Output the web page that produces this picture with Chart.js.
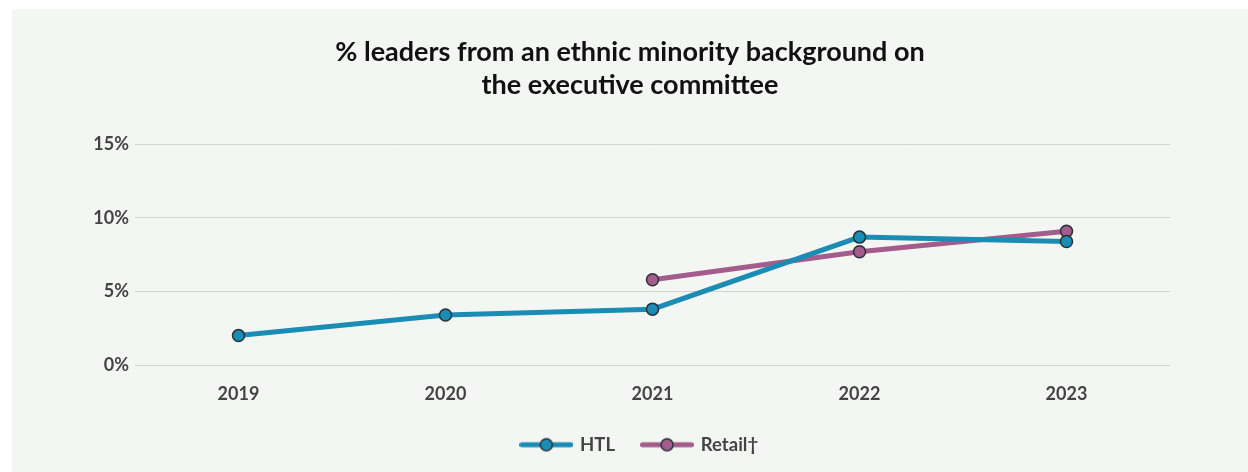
<!DOCTYPE html>
<html>
<head>
<meta charset="utf-8">
<script src="https://cdn.jsdelivr.net/npm/chart.js@4.4.0/dist/chart.umd.min.js"></script>
<style>
  html, body { margin: 0; padding: 0; background: #ffffff; }
  #wrap {
    position: absolute;
    left: 12px; top: 9px;
    width: 1236px; height: 463px;
    background: #f4f6f4;
  }
</style>
</head>
<body>
<div id="wrap"><canvas id="myChart" width="1236" height="463"></canvas></div>
<script>
// Data
const years = ['2019', '2020', '2021', '2022', '2023'];
const htl = [2.0, 3.4, 3.8, 8.7, 8.4];
const retail = [null, null, 5.8, 7.7, 9.1];
const yTicks = [0, 5, 10, 15];

const htlColor = '#1b8cb4';
const retailColor = '#a35c8c';
const markerEdge = '#263238';
const fontFamily = 'Lato, "Open Sans", sans-serif';

// legend swatch: short thick line with a marker in the middle
function legendSwatch(color) {
    const c = document.createElement('canvas');
    c.width = 54;
    c.height = 16;
    const g = c.getContext('2d');
    g.strokeStyle = color;
    g.lineWidth = 5;
    g.lineCap = 'round';
    g.beginPath();
    g.moveTo(2.5, 8);
    g.lineTo(51.5, 8);
    g.stroke();
    g.beginPath();
    g.arc(27, 8, 6, 0, Math.PI * 2);
    g.fillStyle = color;
    g.fill();
    g.lineWidth = 1.5;
    g.strokeStyle = markerEdge;
    g.stroke();
    return c;
}

const swatches = [legendSwatch(htlColor), legendSwatch(retailColor)];

// nudge the legend a little to the right of the centre
const legendShift = {
    id: 'legendShift',
    afterLayout(chart) {
        const lg = chart.legend;
        lg.left += 10;
        lg.right += 10;
    }
};

const ctx = document.getElementById('myChart').getContext('2d');

new Chart(ctx, {
    type: 'line',
    data: {
        labels: years,
        datasets: [{
            label: 'HTL',
            data: htl,
            borderColor: htlColor,
            backgroundColor: htlColor,
            borderWidth: 5,
            pointRadius: 6,
            pointBorderWidth: 1.5,
            pointBorderColor: markerEdge,
            pointBackgroundColor: htlColor,
            tension: 0
        }, {
            label: 'Retail\u2020',
            data: retail,
            borderColor: retailColor,
            backgroundColor: retailColor,
            borderWidth: 5,
            pointRadius: 6,
            pointBorderWidth: 1.5,
            pointBorderColor: markerEdge,
            pointBackgroundColor: retailColor,
            tension: 0
        }]
    },
    plugins: [legendShift],
    options: {
        responsive: false,
        animation: false,
        layout: {
            padding: { top: 19, right: 78, bottom: 8, left: 78 }
        },
        plugins: {
            title: {
                display: true,
                text: ['% leaders from an ethnic minority background on', 'the executive committee'],
                color: '#111111',
                font: { family: fontFamily, size: 27, weight: '700', lineHeight: 1.222 },
                padding: { top: 8, bottom: 42.5 }
            },
            legend: {
                position: 'bottom',
                labels: {
                    usePointStyle: true,
                    pointStyleWidth: 49,
                    padding: 27.5,
                    color: '#444444',
                    font: { family: fontFamily, size: 18.5, weight: '700' },
                    generateLabels(chart) {
                        const items = Chart.defaults.plugins.legend.labels.generateLabels(chart);
                        items.forEach((it, i) => { it.pointStyle = swatches[i]; });
                        return items;
                    }
                }
            },
            tooltip: { enabled: false }
        },
        scales: {
            x: {
                offset: true,
                grid: { display: false, drawTicks: false },
                border: { display: false },
                ticks: {
                    padding: 18,
                    color: '#444444',
                    font: { family: fontFamily, size: 18, weight: '700' }
                },
                afterFit(scale) { scale.height = 43; }
            },
            y: {
                min: 0,
                max: 15,
                afterBuildTicks(scale) {
                    scale.ticks = yTicks.map(v => ({ value: v }));
                },
                grid: { color: '#d2d4d2', lineWidth: 1, drawTicks: false },
                border: { display: false },
                ticks: {
                    padding: 6,
                    color: '#444444',
                    font: { family: fontFamily, size: 18, weight: '700' },
                    callback: v => v + '%'
                },
                afterFit(scale) { scale.width = 45; }
            }
        }
    }
});
</script>
</body>
</html>
